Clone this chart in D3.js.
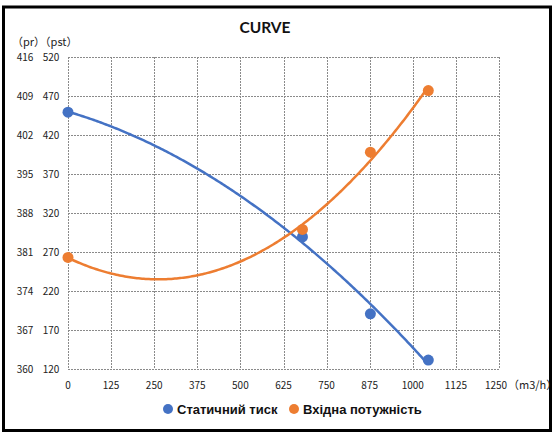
<!DOCTYPE html>
<html lang="uk">
<head>
  <meta charset="UTF-8">
  <title>CURVE</title>
  <script src="https://d3js.org/d3.v7.min.js"></script>
  <style>
    body { margin: 0; background: #fff; }
    svg { display: block; }
    .tick-label { font-family: "Noto Sans CJK SC", "DejaVu Sans", sans-serif; font-size: 10px; fill: #222; }
    .legend { font-family: "Liberation Sans", Arial, sans-serif; font-size: 13px; font-weight: bold; fill: #111; }
  </style>
</head>
<body>
<div id="chart"></div>
<script>
// flow (m3/h) for each measured point
const flow = [0, 680, 877, 1045];
// static pressure, read on the left (pr) axis
const pressure = [406.1, 383.7, 369.9, 361.6];
// input power, read on the second (pst) axis
const power = [263, 299, 398, 477];

const xTicks = [0, 125, 250, 375, 500, 625, 750, 875, 1000, 1125, 1250];
const prTicks = [360, 367, 374, 381, 388, 395, 402, 409, 416];
const pstTicks = [120, 170, 220, 270, 320, 370, 420, 470, 520];
const seriesNames = ["Статичний тиск", "Вхідна потужність"];

const width = 559, height = 436;
const plot = { left: 68, right: 499, top: 57, bottom: 369 };
const blue = "#4472c4", orange = "#ed7d31";

const svg = d3.select("#chart").append("svg")
  .attr("width", width)
  .attr("height", height);

// outer frame
svg.append("rect")
  .attr("x", 3.5).attr("y", 7)
  .attr("width", 547).attr("height", 423.5)
  .attr("fill", "none")
  .attr("stroke", "#000")
  .attr("stroke-width", 3);

const x = d3.scaleLinear().domain([0, 1250]).range([plot.left, plot.right]);
const yPr = d3.scaleLinear().domain([360, 416]).range([plot.bottom, plot.top]);
const yPst = d3.scaleLinear().domain([120, 520]).range([plot.bottom, plot.top]);

// grid
const grid = svg.append("g")
  .attr("stroke", "#8a8a8a")
  .attr("stroke-width", 1)
  .attr("stroke-dasharray", "2,1");

grid.selectAll(".vg").data(xTicks).enter().append("line")
  .attr("x1", d => Math.round(x(d)) + 0.5).attr("x2", d => Math.round(x(d)) + 0.5)
  .attr("y1", plot.top).attr("y2", plot.bottom);

grid.selectAll(".hg").data(prTicks).enter().append("line")
  .attr("y1", d => Math.round(yPr(d)) + 0.5).attr("y2", d => Math.round(yPr(d)) + 0.5)
  .attr("x1", plot.left).attr("x2", plot.right);

// tick labels (last one sits tight against the unit)
svg.selectAll(".xl").data(xTicks).enter().append("text")
  .attr("class", "tick-label")
  .attr("x", (d, i) => i === xTicks.length - 1 ? x(d) - 3 : x(d))
  .attr("y", 389)
  .attr("text-anchor", "middle")
  .text(d => d);

svg.append("text")
  .attr("class", "tick-label")
  .attr("x", 508)
  .attr("y", 389)
  .style("font-size", "11px")
  .text("（m3/h）");

svg.selectAll(".prl").data(prTicks).enter().append("text")
  .attr("class", "tick-label")
  .attr("x", 25)
  .attr("y", d => yPr(d) + 3.5)
  .attr("text-anchor", "middle")
  .text(d => d);

svg.selectAll(".pstl").data(pstTicks).enter().append("text")
  .attr("class", "tick-label")
  .attr("x", 51)
  .attr("y", d => yPst(d) + 3.5)
  .attr("text-anchor", "middle")
  .text(d => d);

svg.append("text")
  .attr("class", "tick-label")
  .attr("x", 12)
  .attr("y", 46)
  .style("font-size", "11px")
  .text("（pr）（pst）");

svg.append("text")
  .attr("x", 265)
  .attr("y", 33)
  .attr("text-anchor", "middle")
  .style("font-family", "Lato, 'Liberation Sans', sans-serif")
  .style("font-weight", "bold")
  .style("font-size", "15.5px")
  .attr("fill", "#111")
  .text("CURVE");

// quadratic least-squares trendline, like the spreadsheet's polynomial fit
function quadFit(xs, ys) {
  const s = k => d3.sum(xs, v => Math.pow(v, k));
  const t = k => d3.sum(xs, (v, i) => Math.pow(v, k) * ys[i]);
  const A = [[s(0), s(1), s(2)], [s(1), s(2), s(3)], [s(2), s(3), s(4)]];
  const b = [t(0), t(1), t(2)];
  for (let i = 0; i < 3; i++) {
    for (let j = i + 1; j < 3; j++) {
      const f = A[j][i] / A[i][i];
      for (let k = i; k < 3; k++) A[j][k] -= f * A[i][k];
      b[j] -= f * b[i];
    }
  }
  const c = [0, 0, 0];
  for (let i = 2; i >= 0; i--) {
    let v = b[i];
    for (let k = i + 1; k < 3; k++) v -= A[i][k] * c[k];
    c[i] = v / A[i][i];
  }
  return v => c[0] + c[1] * v + c[2] * v * v;
}

function drawSeries(values, yScale, color) {
  const xs = flow.map(v => v / 1000);
  const fit = quadFit(xs, values);
  const span = d3.range(flow[0], flow[flow.length - 1], 5).concat([flow[flow.length - 1]]);
  const line = d3.line()
    .x(d => x(d))
    .y(d => yScale(fit(d / 1000)));

  svg.append("path")
    .datum(span)
    .attr("d", line)
    .attr("fill", "none")
    .attr("stroke", color)
    .attr("stroke-width", 2.5);

  svg.append("g").selectAll("circle")
    .data(flow)
    .enter()
    .append("circle")
    .attr("cx", d => x(d))
    .attr("cy", (d, i) => yScale(values[i]))
    .attr("r", 5.5)
    .attr("fill", color);
}

drawSeries(pressure, yPr, blue);
drawSeries(power, yPst, orange);

// legend
const legendPos = [168, 294];
const legend = svg.selectAll(".lg").data(seriesNames).enter().append("g")
  .attr("transform", (d, i) => `translate(${legendPos[i]},409)`);

legend.append("circle")
  .attr("r", 5)
  .attr("fill", (d, i) => [blue, orange][i]);

legend.append("text")
  .attr("class", "legend")
  .attr("x", 9)
  .attr("y", 4.5)
  .text(d => d);
</script>
</body>
</html>
